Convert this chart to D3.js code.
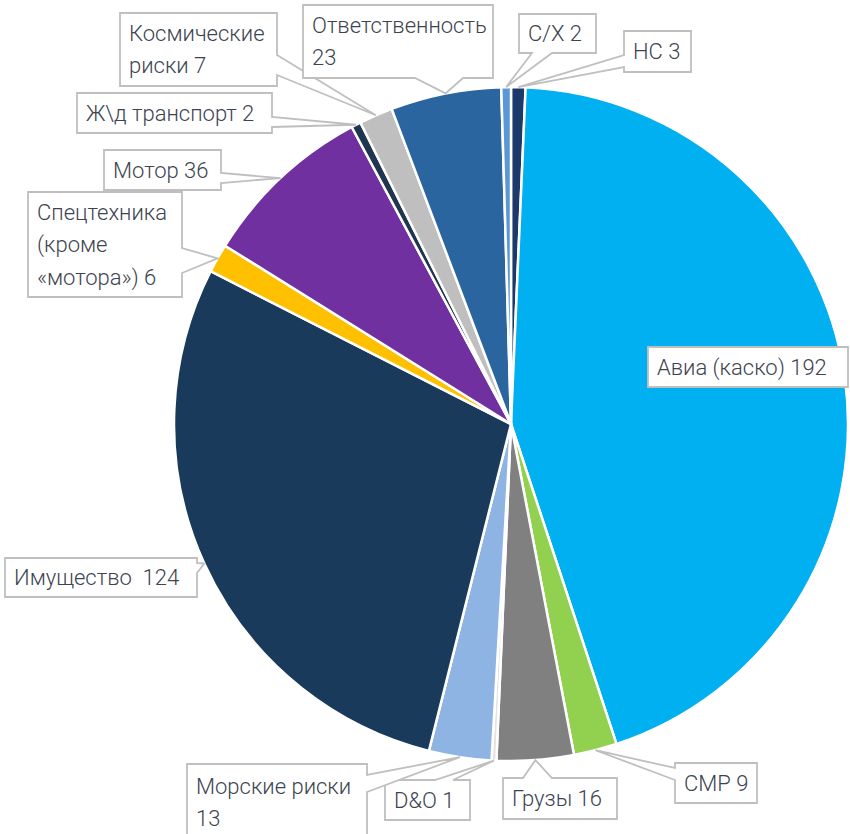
<!DOCTYPE html>
<html><head><meta charset="utf-8">
<script src="https://cdn.jsdelivr.net/npm/d3@7"></script>
<style>
html,body{margin:0;padding:0;background:#fff;}
svg{display:block;}
</style></head>
<body>
<svg id="chart" width="850" height="834"></svg>
<script>
// ---- data ----
const categories = ["НС", "Авиа (каско)", "СМР", "Грузы", "D&O", "Морские риски", "Имущество",
  "Спецтехника (кроме «мотора»)", "Мотор", "Ж\\д транспорт", "Космические риски", "Ответственность", "С/Х"];
const values = [3, 192, 9, 16, 1, 13, 124, 6, 36, 2, 7, 23, 2];
const labelLines = [
  ["НС 3"], ["Авиа (каско) 192"], ["СМР 9"], ["Грузы 16"], ["D&O 1"], ["Морские риски", "13"],
  ["Имущество  124"], ["Спецтехника", "(кроме", "«мотора») 6"], ["Мотор 36"], ["Ж\\д транспорт 2"],
  ["Космические", "риски 7"], ["Ответственность", "23"], ["С/Х 2"]
];
const colors = ["#1b3a6b", "#00b0f0", "#92d050", "#808080", "#e3e3e3", "#8db4e2", "#1a3a5c",
  "#ffc000", "#7030a0", "#1f3550", "#bfbfbf", "#2b65a0", "#5b96d6"];

// ---- layout of callout boxes: [x, y, w, h, tailEdge, baseA, baseB] ----
const boxes = [
  [624, 31, 67, 41, "left", 55, 67],
  [648, 347, 200, 40, null, 0, 0],
  [675, 763, 82, 40, "left", 768, 780],
  [503, 778, 114, 41, "top", 523, 552],
  [385, 780, 85, 40, "top", 435, 453],
  [187, 764, 180, 77, "right", 775, 792],
  [5, 558, 192, 39, "right", 563, 573],
  [28, 192, 154, 105, "right", 248, 273],
  [104, 150, 117, 40, "right", 173, 183],
  [77, 93, 195, 40, "right", 117, 127],
  [120, 13, 157, 73, "right", 55, 75],
  [303, 5, 190, 73, "bottom", 415, 463],
  [519, 14, 77, 39, "bottom", 532, 552]
];

const cx = 511, cy = 424, R = 337;
const svg = d3.select("#chart");
const g = svg.append("g").attr("transform", `translate(${cx},${cy})`);

const data = categories.map((c, i) => ({ cat: c, value: values[i], i }));
const pie = d3.pie().sort(null).value(d => d.value).startAngle(0).endAngle(2 * Math.PI);
const arcs = pie(data);
const arc = d3.arc().innerRadius(0).outerRadius(R);
const edgeArc = d3.arc().innerRadius(R).outerRadius(R);

g.selectAll("path.slice").data(arcs).join("path")
  .attr("class", "slice")
  .attr("d", arc)
  .attr("fill", d => colors[d.data.i])
  .attr("stroke", "#ffffff")
  .attr("stroke-width", 2.5)
  .attr("stroke-linejoin", "round");

// ---- callouts ----
function calloutPath(b, tip) {
  const [x, y, w, h, edge, a, bb] = b;
  const x2 = x + w, y2 = y + h;
  const p = [];
  p.push([x, y]);
  if (edge === "top") { p.push([a, y], tip, [bb, y]); }
  p.push([x2, y]);
  if (edge === "right") { p.push([x2, a], tip, [x2, bb]); }
  p.push([x2, y2]);
  if (edge === "bottom") { p.push([bb, y2], tip, [a, y2]); }
  p.push([x, y2]);
  if (edge === "left") { p.push([x, bb], tip, [x, a]); }
  return "M" + p.map(q => q.join(",")).join("L") + "Z";
}

const lab = svg.append("g").attr("class", "labels");
arcs.forEach(d => {
  const i = d.data.i;
  const b = boxes[i];
  const c = edgeArc.centroid(d);
  const tip = [c[0] + cx, c[1] + cy];
  lab.append("path")
    .attr("d", calloutPath(b, tip))
    .attr("fill", "#ffffff")
    .attr("stroke", "#bfbfbf")
    .attr("stroke-width", 1.8)
    .attr("stroke-linejoin", "miter");
  const lines = labelLines[i];
  const midY = b[1] + b[3] / 2;
  const lh = 32.5;
  const t = lab.append("text")
    .attr("font-family", "Roboto, 'Open Sans', sans-serif")
    .attr("font-weight", 300)
    .attr("font-size", 22)
    .attr("fill", "#3c4450")
    .attr("xml:space", "preserve")
    .style("white-space", "pre");
  lines.forEach((ln, k) => {
    t.append("tspan")
      .attr("x", b[0] + 9)
      .attr("y", midY + (k - (lines.length - 1) / 2) * lh)
      .attr("dominant-baseline", "central")
      .text(ln);
  });
});
</script>
</body></html>
